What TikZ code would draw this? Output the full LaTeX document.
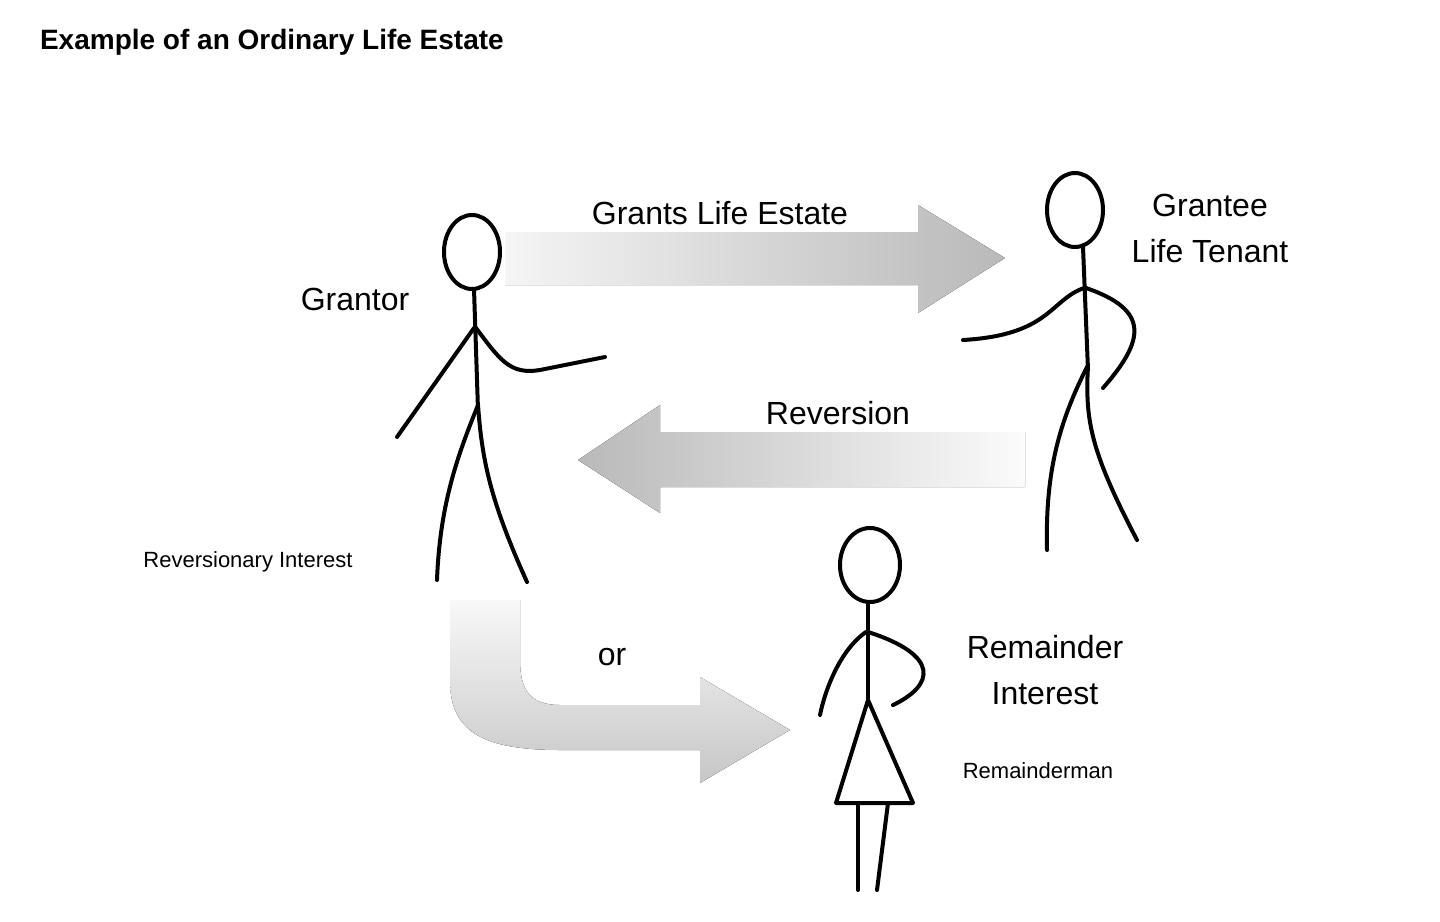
\documentclass[tikz,border=0pt]{standalone}
\usepackage{fontspec}
\setmainfont{Liberation Sans}
\begin{document}
\begin{tikzpicture}[x=0.5pt,y=-0.5pt,
  stick/.style={line width=2pt,line cap=round,line join=round},
  lbl/.style={font=\fontsize{16}{19}\selectfont},
  small/.style={font=\fontsize{11}{13}\selectfont}]
\useasboundingbox (0,0) rectangle (1440,921);
% arrows
\fill[left color=gray!8,right color=gray!55] (505,232) -- (918,232) -- (918,205) -- (1005,258) -- (918,313) -- (918,285) -- (505,285) -- cycle;
\fill[left color=gray!55,right color=gray!3] (1025,432) -- (660,432) -- (660,405) -- (578,460) -- (660,513) -- (660,487) -- (1025,487) -- cycle;
\fill[top color=gray!5,bottom color=gray!45] (450,600) -- (450,680) .. controls (450,730) and (480,750) .. (560,750) -- (700,750) -- (700,783) -- (790,730) -- (700,677) -- (700,705) -- (560,705) .. controls (530,705) and (520,690) .. (520,660) -- (520,600) -- cycle;
% Grantor
\draw[stick] (472,252) ellipse [x radius=28,y radius=37];
\draw[stick] (474,289) -- (478,410);
\draw[stick] (474,328) -- (397,437);
\draw[stick] (476,328) .. controls (500,360) and (510,375) .. (540,370) -- (605,357);
\draw[stick] (478,405) .. controls (460,450) and (440,500) .. (437,580);
\draw[stick] (478,405) .. controls (482,460) and (490,500) .. (527,582);
% Grantee
\draw[stick] (1075,210) ellipse [x radius=28,y radius=37];
\draw[stick] (1083,247) -- (1088,370);
\draw[stick] (1084,288) .. controls (1050,300) and (1050,335) .. (963,340);
\draw[stick] (1086,288) .. controls (1150,310) and (1145,340) .. (1103,388);
\draw[stick] (1088,365) .. controls (1060,420) and (1045,470) .. (1047,550);
\draw[stick] (1088,365) .. controls (1085,420) and (1090,450) .. (1137,540);
% Remainderman
\draw[stick] (870,565) ellipse [x radius=30,y radius=37];
\draw[stick] (868,602) -- (868,700);
\draw[stick] (866,632) .. controls (840,650) and (825,690) .. (820,715);
\draw[stick] (868,632) .. controls (940,655) and (935,685) .. (893,705);
\draw[stick] (868,700) -- (836,803) -- (913,803) -- cycle;
\draw[stick] (858,803) -- (858,890);
\draw[stick] (888,803) -- (877,890);
% texts
\node[anchor=west,font=\bfseries\fontsize{14}{17}\selectfont] (title) at (33,42) {Example of an Ordinary Life Estate};
\node[lbl] (gle) at (720,213) {Grants Life Estate};
\node[lbl] (gr) at (355,299) {Grantor};
\node[lbl,align=center] (ge) at (1210,228) {Grantee\\[4pt]Life Tenant};
\node[lbl] (rev) at (838,413) {Reversion};
\node[small] (ri) at (248,562) {Reversionary Interest};
\node[lbl] (or) at (612,657) {or};
\node[lbl,align=center] (rmi) at (1045,670) {Remainder\\[4pt]Interest};
\node[small] (rm) at (1038,771) {Remainderman};
\end{tikzpicture}
\end{document}
